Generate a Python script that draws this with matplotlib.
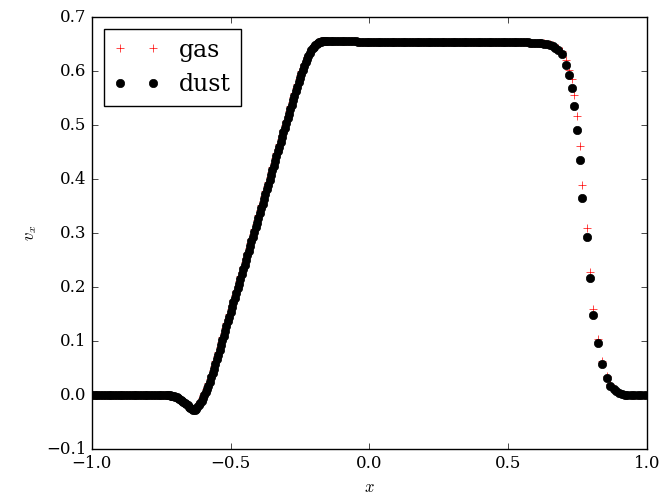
import matplotlib
matplotlib.use("Agg")
import matplotlib.pyplot as plt

plt.style.use("classic")
plt.rcParams["font.family"] = "serif"
plt.rcParams["font.serif"] = ["DejaVu Serif"]
plt.rcParams["mathtext.fontset"] = "cm"
plt.rcParams["figure.facecolor"] = "white"

# particle positions (shared by gas and dust)
x_pos = [
    # left state
    -1.00, -0.99, -0.98, -0.97, -0.96, -0.95, -0.94, -0.93, -0.92, -0.91,
    -0.90, -0.89, -0.88, -0.87, -0.86, -0.85, -0.84, -0.83, -0.82, -0.81,
    -0.80, -0.79, -0.78, -0.77, -0.76, -0.75, -0.74, -0.73,
    # rarefaction
    -0.725, -0.720, -0.715, -0.710, -0.705, -0.700, -0.695, -0.690, -0.685, -0.680,
    -0.675, -0.670, -0.665, -0.660, -0.655, -0.650, -0.645, -0.640, -0.635, -0.630,
    -0.625, -0.620, -0.615, -0.610, -0.605, -0.600, -0.595, -0.590, -0.585, -0.580,
    -0.575, -0.570, -0.565, -0.560, -0.555, -0.550, -0.545, -0.540, -0.535, -0.530,
    -0.525, -0.520, -0.515, -0.510, -0.505, -0.500, -0.495, -0.490, -0.485, -0.480,
    -0.475, -0.470, -0.465, -0.460, -0.455, -0.450, -0.445, -0.440, -0.435, -0.430,
    -0.425, -0.420, -0.415, -0.410, -0.405, -0.400, -0.395, -0.390, -0.385, -0.380,
    -0.375, -0.370, -0.365, -0.360, -0.355, -0.350, -0.345, -0.340, -0.335, -0.330,
    -0.325, -0.320, -0.315, -0.310, -0.305, -0.300, -0.295, -0.290, -0.285, -0.280,
    -0.275, -0.270, -0.265, -0.260, -0.255, -0.250, -0.245, -0.240, -0.235, -0.230,
    -0.225, -0.220, -0.215, -0.210, -0.205, -0.200, -0.195, -0.190, -0.185, -0.180,
    -0.175, -0.170, -0.165, -0.160, -0.155, -0.150,
    # plateau
    -0.14, -0.13, -0.12, -0.11, -0.10, -0.09, -0.08, -0.07, -0.06, -0.05,
    -0.04, -0.03, -0.02, -0.01, 0.00, 0.01, 0.02, 0.03, 0.04, 0.05,
    0.06, 0.07, 0.08, 0.09, 0.10, 0.11, 0.12, 0.13, 0.14, 0.15,
    0.16, 0.17, 0.18, 0.19, 0.20, 0.21, 0.22, 0.23, 0.24, 0.25,
    0.26, 0.27, 0.28, 0.29, 0.30, 0.31, 0.32, 0.33, 0.34, 0.35,
    0.36, 0.37, 0.38, 0.39, 0.40, 0.41, 0.42, 0.43, 0.44, 0.45,
    0.46, 0.47, 0.48, 0.49, 0.50, 0.51, 0.52, 0.53, 0.54, 0.55,
    0.56, 0.57, 0.58, 0.59, 0.60, 0.61, 0.62, 0.63, 0.64, 0.65,
    0.66, 0.67, 0.68,
    # shock and right state
    0.693, 0.708, 0.719, 0.729, 0.737, 0.747, 0.759, 0.768, 0.783, 0.795,
    0.807, 0.825, 0.839, 0.855, 0.869, 0.880, 0.890, 0.900, 0.910, 0.920,
    0.930, 0.942, 0.955, 0.968, 0.980, 0.992,
]

v_dust = [
    0.0, 0.0, 0.0, 0.0, 0.0, 0.0, 0.0, 0.0, 0.0, 0.0,
    0.0, 0.0, 0.0, 0.0, 0.0, 0.0, 0.0, 0.0, 0.0, 0.0,
    0.0, 0.0, 0.0, 0.0, 0.0, 0.0, 0.0, 0.0,
    0.000, 0.000, -0.001, -0.001, -0.002, -0.003, -0.004, -0.006, -0.007, -0.009,
    -0.011, -0.013, -0.015, -0.017, -0.019, -0.021, -0.023, -0.025, -0.027, -0.027,
    -0.025, -0.022, -0.019, -0.015, -0.010, -0.005, 0.000, 0.006, 0.012, 0.018,
    0.025, 0.033, 0.041, 0.049, 0.058, 0.067, 0.075, 0.084, 0.093, 0.102,
    0.110, 0.119, 0.128, 0.137, 0.145, 0.154, 0.163, 0.172, 0.180, 0.189,
    0.198, 0.207, 0.215, 0.224, 0.233, 0.242, 0.250, 0.259, 0.268, 0.277,
    0.285, 0.294, 0.303, 0.312, 0.320, 0.329, 0.338, 0.347, 0.355, 0.364,
    0.373, 0.382, 0.390, 0.399, 0.408, 0.417, 0.425, 0.434, 0.443, 0.452,
    0.460, 0.469, 0.478, 0.487, 0.495, 0.504, 0.513, 0.521, 0.530, 0.538,
    0.547, 0.555, 0.564, 0.572, 0.580, 0.588, 0.596, 0.603, 0.610, 0.617,
    0.623, 0.629, 0.634, 0.639, 0.643, 0.646, 0.649, 0.651, 0.653, 0.654,
    0.655, 0.656, 0.656, 0.657, 0.657, 0.657,
    0.656, 0.656, 0.656, 0.656, 0.656, 0.656, 0.656, 0.656, 0.656, 0.656,
    0.655, 0.655, 0.655, 0.655, 0.655, 0.655, 0.655, 0.655, 0.655, 0.655,
    0.655, 0.655, 0.655, 0.655, 0.655, 0.655, 0.655, 0.655, 0.655, 0.655,
    0.655, 0.655, 0.655, 0.655, 0.655, 0.655, 0.655, 0.655, 0.655, 0.655,
    0.655, 0.655, 0.655, 0.655, 0.654, 0.654, 0.654, 0.654, 0.654, 0.654,
    0.654, 0.654, 0.654, 0.654, 0.654, 0.654, 0.654, 0.654, 0.654, 0.654,
    0.654, 0.654, 0.654, 0.654, 0.654, 0.654, 0.654, 0.654, 0.654, 0.654,
    0.654, 0.654, 0.653, 0.653, 0.653, 0.652, 0.652, 0.651, 0.650, 0.649,
    0.647, 0.644, 0.640,
    0.633, 0.611, 0.594, 0.569, 0.535, 0.492, 0.435, 0.366, 0.293, 0.217,
    0.148, 0.096, 0.057, 0.032, 0.017, 0.011, 0.007, 0.004, 0.002, 0.001,
    0.0, 0.0, 0.0, 0.0, 0.0, 0.0,
]

v_gas = [
    0.0, 0.0, 0.0, 0.0, 0.0, 0.0, 0.0, 0.0, 0.0, 0.0,
    0.0, 0.0, 0.0, 0.0, 0.0, 0.0, 0.0, 0.0, 0.0, 0.0,
    0.0, 0.0, 0.0, 0.0, 0.0, 0.0, 0.0, 0.0,
    0.000, 0.000, -0.001, -0.001, -0.002, -0.003, -0.004, -0.006, -0.007, -0.009,
    -0.011, -0.013, -0.015, -0.017, -0.019, -0.021, -0.023, -0.024, -0.025, -0.024,
    -0.021, -0.018, -0.014, -0.010, -0.005, 0.000, 0.005, 0.011, 0.017, 0.023,
    0.030, 0.038, 0.046, 0.054, 0.063, 0.072, 0.080, 0.089, 0.098, 0.107,
    0.115, 0.124, 0.133, 0.142, 0.150, 0.159, 0.168, 0.177, 0.185, 0.194,
    0.203, 0.212, 0.220, 0.229, 0.238, 0.247, 0.255, 0.264, 0.273, 0.282,
    0.290, 0.299, 0.308, 0.317, 0.325, 0.334, 0.343, 0.352, 0.360, 0.369,
    0.378, 0.387, 0.395, 0.404, 0.413, 0.422, 0.430, 0.439, 0.448, 0.457,
    0.465, 0.474, 0.483, 0.492, 0.500, 0.509, 0.518, 0.526, 0.535, 0.543,
    0.552, 0.560, 0.569, 0.577, 0.585, 0.593, 0.600, 0.607, 0.614, 0.620,
    0.626, 0.631, 0.636, 0.641, 0.645, 0.648, 0.651, 0.653, 0.654, 0.655,
    0.656, 0.656, 0.657, 0.657, 0.657, 0.657,
    0.656, 0.656, 0.656, 0.656, 0.656, 0.656, 0.656, 0.656, 0.656, 0.656,
    0.655, 0.655, 0.655, 0.655, 0.655, 0.655, 0.655, 0.655, 0.655, 0.655,
    0.655, 0.655, 0.655, 0.655, 0.655, 0.655, 0.655, 0.655, 0.655, 0.655,
    0.655, 0.655, 0.655, 0.655, 0.655, 0.655, 0.655, 0.655, 0.655, 0.655,
    0.655, 0.655, 0.655, 0.655, 0.654, 0.654, 0.654, 0.654, 0.654, 0.654,
    0.654, 0.654, 0.654, 0.654, 0.654, 0.654, 0.654, 0.654, 0.654, 0.654,
    0.654, 0.654, 0.654, 0.654, 0.654, 0.654, 0.654, 0.654, 0.654, 0.654,
    0.654, 0.654, 0.653, 0.653, 0.653, 0.652, 0.652, 0.652, 0.651, 0.650,
    0.648, 0.646, 0.643,
    0.638, 0.622, 0.603, 0.585, 0.556, 0.518, 0.462, 0.390, 0.310, 0.228,
    0.159, 0.104, 0.064, 0.036, 0.020, 0.012, 0.008, 0.004, 0.002, 0.001,
    0.0, 0.0, 0.0, 0.0, 0.0, 0.0,
]

fig = plt.figure(figsize=(6.71, 4.98), dpi=100)
ax = fig.add_axes([0.137, 0.098, 0.827, 0.867])

ax.plot(x_pos, v_gas, "r+", label="gas")
ax.plot(x_pos, v_dust, "ko", label="dust")

ax.set_xlim(-1.0, 1.0)
ax.set_ylim(-0.1, 0.7)
ax.set_xlabel(r"$x$")
ax.set_ylabel(r"$v_x$")
ax.legend(loc="upper left", numpoints=2, fontsize=17)

fig.savefig("out.png", dpi=100, facecolor="white")
